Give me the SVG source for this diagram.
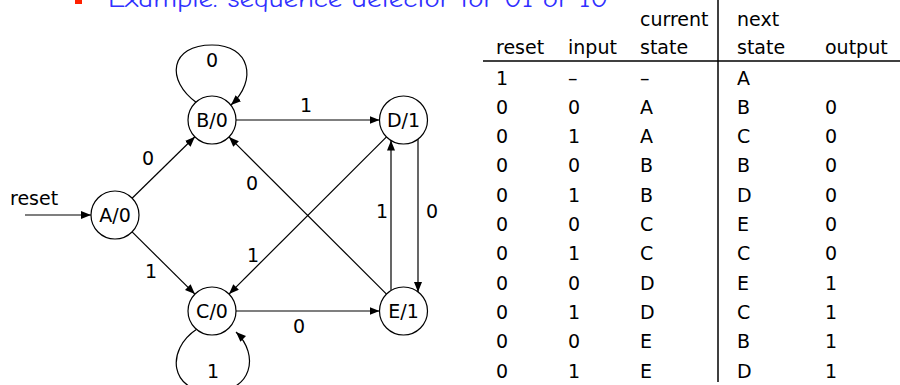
<svg xmlns="http://www.w3.org/2000/svg" width="900" height="385" viewBox="0 0 900 385">
<defs>
<marker id="arr" markerUnits="userSpaceOnUse" markerWidth="11" markerHeight="9" refX="10" refY="4" orient="auto">
<path d="M0,0 L10,4 L0,8 z" fill="#000"/>
</marker>
<style>
.t{font-family:"DejaVu Sans",Verdana,sans-serif;font-size:19px;fill:#000}
.m{text-anchor:middle}
.n circle{fill:#fff;stroke:#000;stroke-width:1.2}
.e line,.e path{stroke:#000;stroke-width:1.2;fill:none;marker-end:url(#arr)}
.g{stroke:#000;stroke-width:1.5}
</style>
</defs>
<rect width="900" height="385" fill="#fff"/>
<rect x="75" y="-3" width="7" height="7" fill="#ff2000"/>
<text x="108" y="7" font-family="'Comic Neue','DejaVu Sans',sans-serif" font-size="24" fill="#3030ff" textLength="500" lengthAdjust="spacingAndGlyphs">Example: sequence detector for 01 or 10</text>

<g id="connectors" class="e">
<line x1="25" y1="215" x2="91" y2="215"/>
<line x1="132.1" y1="198.2" x2="194.9" y2="136.8"/>
<line x1="132.1" y1="231.9" x2="194.9" y2="294.1"/>
<line x1="236" y1="120" x2="379.5" y2="120"/>
<line x1="236" y1="311" x2="379.5" y2="311"/>
<line x1="386.5" y1="136.9" x2="229" y2="294.1"/>
<line x1="386.5" y1="294.1" x2="229" y2="136.9"/>
<line x1="391" y1="290.5" x2="391" y2="140.5"/>
<line x1="418" y1="139" x2="418" y2="292"/>
<path d="M197,103 C165,80 170,45 212,45 C250,45 258,80 231,105"/>
<path d="M197,329 C165,350 170,392 212,392 C252,392 260,355 236,332"/>
</g>
<g id="edge-labels" class="t m">
<text x="10" y="205" style="text-anchor:start">reset</text>
<text x="212" y="67">0</text>
<text x="148" y="165">0</text>
<text x="151" y="278">1</text>
<text x="306" y="112">1</text>
<text x="253" y="262">1</text>
<text x="252" y="190">0</text>
<text x="382" y="218">1</text>
<text x="432" y="218">0</text>
<text x="299" y="333">0</text>
<text x="213" y="378">1</text>
</g>

<g id="A" class="n"><circle cx="115" cy="215" r="24"/><text class="t m" x="115" y="222">A/0</text></g>
<g id="B" class="n"><circle cx="212" cy="120" r="24"/><text class="t m" x="212" y="127">B/0</text></g>
<g id="C" class="n"><circle cx="212" cy="311" r="24"/><text class="t m" x="212" y="318">C/0</text></g>
<g id="D" class="n"><circle cx="403.5" cy="120" r="24"/><text class="t m" x="403.5" y="127">D/1</text></g>
<g id="E" class="n"><circle cx="403.5" cy="311" r="24"/><text class="t m" x="403.5" y="318">E/1</text></g>

<g id="table" class="t">
<line class="g" x1="483" y1="61" x2="900" y2="61"/>
<line class="g" x1="718" y1="0" x2="718" y2="382"/>
<text x="640" y="26">current</text>
<text x="737" y="26">next</text>
<text x="496" y="54">reset</text>
<text x="568" y="54">input</text>
<text x="640" y="54">state</text>
<text x="737" y="54">state</text>
<text x="825" y="54">output</text>

<text x="496" y="84.5">1</text><text x="568" y="84.5">–</text><text x="640" y="84.5">–</text><text x="737" y="84.5">A</text>
<text x="496" y="113.8">0</text><text x="568" y="113.8">0</text><text x="640" y="113.8">A</text><text x="737" y="113.8">B</text><text x="825" y="113.8">0</text>
<text x="496" y="143.1">0</text><text x="568" y="143.1">1</text><text x="640" y="143.1">A</text><text x="737" y="143.1">C</text><text x="825" y="143.1">0</text>
<text x="496" y="172.4">0</text><text x="568" y="172.4">0</text><text x="640" y="172.4">B</text><text x="737" y="172.4">B</text><text x="825" y="172.4">0</text>
<text x="496" y="201.7">0</text><text x="568" y="201.7">1</text><text x="640" y="201.7">B</text><text x="737" y="201.7">D</text><text x="825" y="201.7">0</text>
<text x="496" y="231">0</text><text x="568" y="231">0</text><text x="640" y="231">C</text><text x="737" y="231">E</text><text x="825" y="231">0</text>
<text x="496" y="260.3">0</text><text x="568" y="260.3">1</text><text x="640" y="260.3">C</text><text x="737" y="260.3">C</text><text x="825" y="260.3">0</text>
<text x="496" y="289.6">0</text><text x="568" y="289.6">0</text><text x="640" y="289.6">D</text><text x="737" y="289.6">E</text><text x="825" y="289.6">1</text>
<text x="496" y="318.9">0</text><text x="568" y="318.9">1</text><text x="640" y="318.9">D</text><text x="737" y="318.9">C</text><text x="825" y="318.9">1</text>
<text x="496" y="348.2">0</text><text x="568" y="348.2">0</text><text x="640" y="348.2">E</text><text x="737" y="348.2">B</text><text x="825" y="348.2">1</text>
<text x="496" y="377.5">0</text><text x="568" y="377.5">1</text><text x="640" y="377.5">E</text><text x="737" y="377.5">D</text><text x="825" y="377.5">1</text>
</g>
</svg>
